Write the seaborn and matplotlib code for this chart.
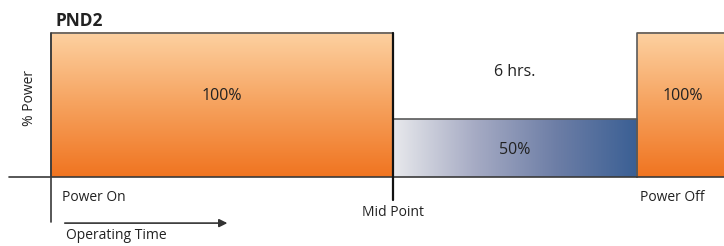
import numpy as np
import matplotlib.pyplot as plt
import seaborn as sns
from matplotlib.colors import LinearSegmentedColormap

# operating phases (hours from power on) and drawn power level
phase_start = [0.0, 8.4, 14.4]
phase_end = [8.4, 14.4, 17.0]
phase_height = [100, 40, 100]
phase_label = ["100%", "50%", "100%"]
phase_style = ["orange", "blue", "orange"]

event_time = [0.0, 8.4, 14.4]
event_label = ["Power On", "Mid Point", "Power Off"]

duration_label = "6 hrs."

sns.set_theme(style="white")
plt.rcParams['font.family'] = ['Open Sans', 'DejaVu Sans']

fig = plt.figure(figsize=(7.24, 2.46), dpi=100)
ax = fig.add_axes([0, 0, 1, 1])
ax.set_xlim(-1.253, 16.53)
ax.set_ylim(-47.9, 122.9)
ax.axis("off")

orange = LinearSegmentedColormap.from_list("org", ["#f07420", "#f6a25e", "#fdd1a1"])
blue = LinearSegmentedColormap.from_list("blu", ["#e8e9ec", "#a6abc4", "#6d7ea6", "#3a5f94"])
grad_v = np.linspace(0, 1, 256).reshape(-1, 1)
grad_h = np.linspace(0, 1, 256).reshape(1, -1)
txt = dict(color="#222222", ha="center", va="center")

for x0, x1, p, lab, st in zip(phase_start, phase_end, phase_height, phase_label, phase_style):
    if st == "orange":
        ax.imshow(grad_v, cmap=orange, origin="lower", aspect="auto",
                  extent=(x0, x1, 0, p), zorder=1)
        xc = (x0 + x1) / 2 if x1 < 16 else x0 + 1.13
        ax.text(xc, p * 0.56, lab, fontsize=11.5, zorder=5, **txt)
    else:
        ax.imshow(grad_h, cmap=blue, aspect="auto",
                  extent=(x0, x1, 0, p), zorder=1)
        ax.text((x0 + x1) / 2, p * 0.47, lab, fontsize=11.5, zorder=5, **txt)
    ax.plot([x0, x0, x1, x1], [0, p, p, 0], color="#5a5a5a", lw=1.2, zorder=3)

# 6 hrs annotation above the reduced-power phase
ax.text((phase_start[1] + phase_end[1]) / 2, 73, duration_label, fontsize=11.5, **txt)

# axes lines
ax.plot([-1.03, 16.53], [0, 0], color="#3a3a3a", lw=1.2, zorder=4)
ax.plot([0, 0], [100, -31.5], color="#3a3a3a", lw=1.2, zorder=4)
ax.plot([event_time[1]] * 2, [100, -16], color="#111111", lw=1.6, zorder=4)

ax.text(event_time[0] + 0.27, -14, event_label[0], ha="left", va="center", fontsize=10, color="#222222")
ax.text(event_time[1], -24.5, event_label[1], fontsize=10, **txt)
ax.text(event_time[2] + 0.07, -14, event_label[2], ha="left", va="center", fontsize=10, color="#222222")

ax.text(-0.53, 55, "% Power", rotation=90, fontsize=10, **txt)
ax.text(0.1, 108, "PND2", ha="left", va="center", fontsize=12.5, fontweight="bold", color="#222222")

ax.annotate("", xy=(4.4, -32), xytext=(0.27, -32),
            arrowprops=dict(arrowstyle="-|>", color="#333333", lw=1.2, mutation_scale=12))
ax.text(0.37, -40.5, "Operating Time", ha="left", va="center", fontsize=10, color="#222222")

fig.savefig("out.png", dpi=100)
